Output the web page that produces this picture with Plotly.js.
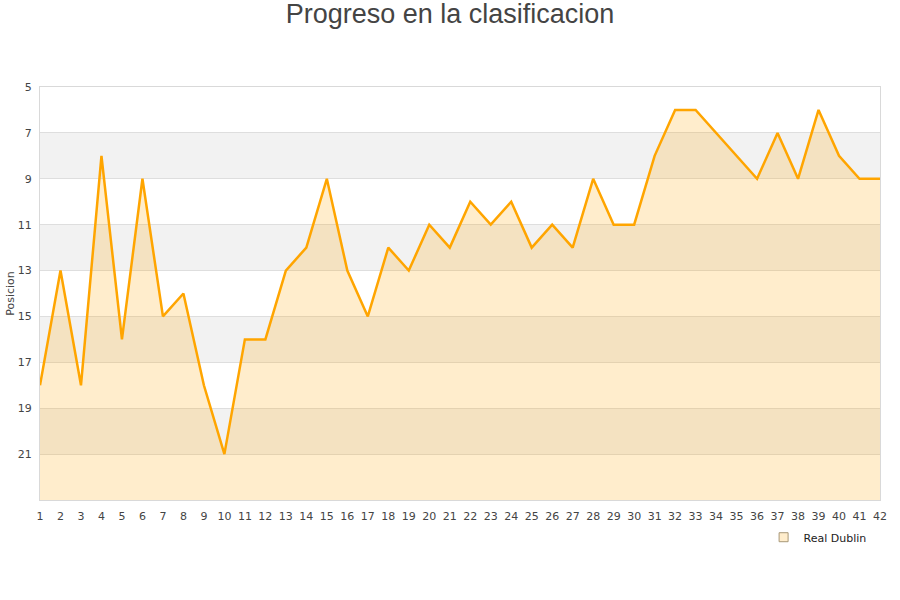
<!DOCTYPE html>
<html>
<head>
<meta charset="utf-8">
<script src="https://cdn.plot.ly/plotly-3.0.1.min.js"></script>
<style>html,body{margin:0;padding:0;background:#fff;}#chart{width:900px;height:600px;}</style>
</head>
<body>
<div id="chart"></div>
<script>
const jornadas = [1,2,3,4,5,6,7,8,9,10,11,12,13,14,15,16,17,18,19,20,21,22,23,24,25,26,27,28,29,30,31,32,33,34,35,36,37,38,39,40,41,42];
const posicion = [18,13,18,8,16,9,15,14,18,21,16,16,13,12,9,13,15,12,13,11,12,10,11,10,12,11,12,9,11,11,8,6,6,7,8,9,7,9,6,8,9,9];
const teamName = "Real Dublin";
const yTicks = [5, 7, 9, 11, 13, 15, 17, 19, 21];
const baseline = jornadas.map(() => 23);
const bandStarts = [7, 11, 15, 19];
const bandWidth = 2;

const traces = [
  {x: jornadas, y: baseline, mode: 'lines', line: {width: 0}, showlegend: false, hoverinfo: 'skip'},
  {x: jornadas, y: posicion, mode: 'lines', fill: 'tonexty', fillcolor: 'rgba(255,165,0,0.2)',
   line: {color: '#ffa500', width: 2.5}, name: teamName, showlegend: false},
  {x: [null], y: [null], mode: 'markers', name: teamName,
   marker: {symbol: 'square', size: 9, color: '#ffedcc', line: {color: '#a89878', width: 1}}}
];

const shapes = bandStarts.map(s => ({
  type: 'rect', xref: 'paper', yref: 'y', x0: 0, x1: 1, y0: s, y1: s + bandWidth,
  fillcolor: '#f2f2f2', line: {width: 0}, layer: 'below'
}));

const layout = {
  width: 900, height: 600,
  margin: {l: 40, r: 20, t: 87, b: 100},
  paper_bgcolor: '#fff', plot_bgcolor: '#fff',
  title: {text: 'Progreso en la clasificacion', x: 0.5, xanchor: 'center', y: 0.993, yanchor: 'top',
          font: {family: 'Liberation Sans, Arial, sans-serif', size: 27, color: '#444'}},
  font: {family: 'DejaVu Sans, sans-serif', size: 11, color: '#444'},
  xaxis: {range: [1, 42], tickmode: 'array', tickvals: jornadas, ticktext: jornadas.map(String),
          showgrid: false, zeroline: false, showline: true, mirror: true, linecolor: '#d9d9d9', linewidth: 1,
          ticks: 'outside', ticklen: 6, tickcolor: 'rgba(0,0,0,0)', tickfont: {size: 11, color: '#444'}},
  yaxis: {range: [23, 5], tickmode: 'array', tickvals: yTicks, ticktext: yTicks.map(String),
          showgrid: true, gridcolor: '#dedede',
          zeroline: false, showline: true, mirror: true, linecolor: '#d9d9d9', linewidth: 1,
          ticks: 'outside', ticklen: 5, tickcolor: 'rgba(0,0,0,0)',
          tickfont: {size: 11, color: '#444'},
          title: {text: 'Posicion', font: {size: 11, color: '#444'}, standoff: 0}},
  shapes: shapes,
  showlegend: true,
  legend: {orientation: 'h', x: 0.99, xanchor: 'right', y: -0.055, yanchor: 'top',
           font: {size: 11, color: '#222'}, bgcolor: 'rgba(0,0,0,0)'}
};

Plotly.newPlot('chart', traces, layout, {displayModeBar: false, staticPlot: true});
</script>
</body>
</html>
